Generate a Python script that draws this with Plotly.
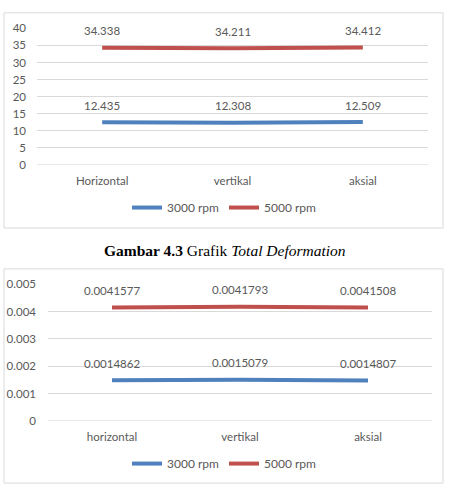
import plotly.graph_objects as go

# ---- data ----
categories_top = ["Horizontal", "vertikal", "aksial"]
deform_3000 = [12.435, 12.308, 12.509]
deform_5000 = [34.338, 34.211, 34.412]
labels_top_3000 = ["12.435", "12.308", "12.509"]
labels_top_5000 = ["34.338", "34.211", "34.412"]

categories_bot = ["horizontal", "vertikal", "aksial"]
val_3000 = [0.0014862, 0.0015079, 0.0014807]
val_5000 = [0.0041577, 0.0041793, 0.0041508]
labels_bot_3000 = ["0.0014862", "0.0015079", "0.0014807"]
labels_bot_5000 = ["0.0041577", "0.0041793", "0.0041508"]

series_names = ["3000 rpm", "5000 rpm"]
caption = "<b>Gambar 4.3</b> Grafik <i>Total Deformation</i>"

W, H = 449, 491
BLUE = "#4F81BD"
RED = "#C0504D"
GRID = "#D9D9D9"
TXT = "#595959"
FONT = "Lato"
FS = 11.5


def px(x):
    return x / W


def py(y):
    return 1 - y / H


fig = go.Figure()

# top chart
fig.add_trace(go.Scatter(x=categories_top, y=deform_3000, mode="lines", name=series_names[0],
                         line=dict(color=BLUE, width=4), xaxis="x", yaxis="y", legend="legend"))
fig.add_trace(go.Scatter(x=categories_top, y=deform_5000, mode="lines", name=series_names[1],
                         line=dict(color=RED, width=4), xaxis="x", yaxis="y", legend="legend"))
# bottom chart
fig.add_trace(go.Scatter(x=categories_bot, y=val_3000, mode="lines", name=series_names[0],
                         line=dict(color=BLUE, width=4), xaxis="x2", yaxis="y2", legend="legend2"))
fig.add_trace(go.Scatter(x=categories_bot, y=val_5000, mode="lines", name=series_names[1],
                         line=dict(color=RED, width=4), xaxis="x2", yaxis="y2", legend="legend2"))

annotations = []
for cats, vals, labs, xr, yr in [
    (categories_top, deform_3000, labels_top_3000, "x", "y"),
    (categories_top, deform_5000, labels_top_5000, "x", "y"),
    (categories_bot, val_3000, labels_bot_3000, "x2", "y2"),
    (categories_bot, val_5000, labels_bot_5000, "x2", "y2"),
]:
    for c, v, t in zip(cats, vals, labs):
        annotations.append(dict(x=c, y=v, xref=xr, yref=yr, text=t, showarrow=False,
                                yshift=17, yanchor="middle", xanchor="center",
                                font=dict(family=FONT, size=FS, color=TXT)))

annotations.append(dict(x=0.5, y=py(250), xref="paper", yref="paper", text=caption,
                        showarrow=False, xanchor="center", yanchor="middle",
                        font=dict(family="Liberation Serif", size=15.5, color="black")))

axis_font = dict(family=FONT, size=FS, color=TXT)
legend_font = dict(family=FONT, size=12, color=TXT)

fig.update_layout(
    width=W, height=H, margin=dict(l=0, r=0, t=0, b=0),
    paper_bgcolor="white", plot_bgcolor="white",
    xaxis=dict(domain=[px(37), px(428)], type="category", range=[-0.5, 2.5],
               showgrid=False, zeroline=False, showline=False, tickfont=axis_font,
               ticklabelstandoff=8, anchor="y"),
    yaxis=dict(domain=[py(162), py(22)], range=[0, 40], dtick=5, tick0=0,
               showgrid=True, gridcolor=GRID, gridwidth=1, zeroline=False,
               showline=False, tickfont=axis_font, ticklabelstandoff=10, anchor="x"),
    xaxis2=dict(domain=[px(48), px(432)], type="category", range=[-0.5, 2.5],
                showgrid=False, zeroline=False, showline=False, tickfont=axis_font,
                ticklabelstandoff=8, anchor="y2"),
    yaxis2=dict(domain=[py(425), py(285)], range=[0, 0.005], dtick=0.001, tick0=0,
                showgrid=True, gridcolor=GRID, gridwidth=1, zeroline=False,
                showline=False, tickfont=axis_font, ticklabelstandoff=11, anchor="x2"),
    legend=dict(orientation="h", x=0.5, xanchor="center", y=py(206), yanchor="middle",
                font=legend_font, bgcolor="rgba(0,0,0,0)", itemwidth=30),
    legend2=dict(orientation="h", x=0.5, xanchor="center", y=py(469), yanchor="middle",
                 font=legend_font, bgcolor="rgba(0,0,0,0)", itemwidth=30),
    annotations=annotations,
    shapes=[
        dict(type="rect", xref="paper", yref="paper", x0=px(4), x1=px(443), y0=py(227), y1=py(6),
             line=dict(color=GRID, width=1)),
        dict(type="rect", xref="paper", yref="paper", x0=px(4), x1=px(443), y0=py(489), y1=py(269),
             line=dict(color=GRID, width=1)),
        # baseline gridlines at zero
        dict(type="line", xref="x domain", yref="y", x0=0, x1=1, y0=0, y1=0,
             line=dict(color=GRID, width=1), layer="below"),
        dict(type="line", xref="x2 domain", yref="y2", x0=0, x1=1, y0=0, y1=0,
             line=dict(color=GRID, width=1), layer="below"),
    ],
    showlegend=True,
)

fig.write_html("out.html")
